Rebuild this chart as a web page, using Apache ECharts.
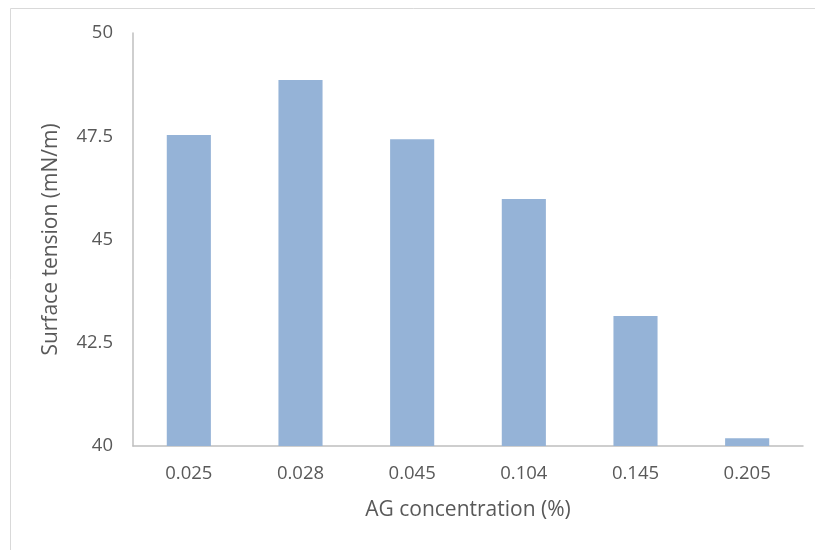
<!DOCTYPE html>
<html>
<head>
<meta charset="utf-8">
<script src="https://cdn.jsdelivr.net/npm/echarts@6/dist/echarts.min.js"></script>
<style>
  html, body { margin: 0; padding: 0; background: #fff; }
  #chart { width: 815px; height: 550px; }
</style>
</head>
<body>
<div id="chart"></div>
<script>
const categories = ['0.025', '0.028', '0.045', '0.104', '0.145', '0.205']
const tension = [47.53, 48.86, 47.43, 45.98, 43.15, 40.19]

const textColor = '#595959'
const font = '"Open Sans", sans-serif'

const chart = echarts.init(document.getElementById('chart'))
chart.setOption({
  animation: false,
  graphic: [
    {
      type: 'rect',
      left: 8, top: 6,
      shape: { width: 900, height: 700 },
      style: { fill: 'none', stroke: '#d9d9d9', lineWidth: 1 },
      silent: true,
    },
  ],
  grid: { left: 133, right: 12, top: 33, bottom: 104 },
  xAxis: {
    type: 'category',
    data: categories,
    name: 'AG concentration (%)',
    nameLocation: 'middle',
    nameGap: 54,
    nameTextStyle: { color: textColor, fontSize: 21, fontFamily: font },
    axisLine: { lineStyle: { color: '#bfbfbf', width: 1.5 } },
    axisTick: { show: false },
    axisLabel: { color: textColor, fontSize: 18.5, fontFamily: font, margin: 18 },
  },
  yAxis: {
    type: 'value',
    min: 40,
    max: 50,
    interval: 2.5,
    name: 'Surface tension (mN/m)',
    nameLocation: 'middle',
    nameGap: 71,
    nameTextStyle: { color: textColor, fontSize: 21, fontFamily: font },
    axisLine: { show: true, lineStyle: { color: '#bfbfbf', width: 1.5 } },
    axisTick: { show: false },
    splitLine: { show: false },
    axisLabel: { color: textColor, fontSize: 18.5, fontFamily: font, margin: 20 },
  },
  series: [
    {
      type: 'bar',
      data: tension,
      barWidth: '39.5%',
      itemStyle: { color: '#95b3d7' },
    },
  ],
})
</script>
</body>
</html>
